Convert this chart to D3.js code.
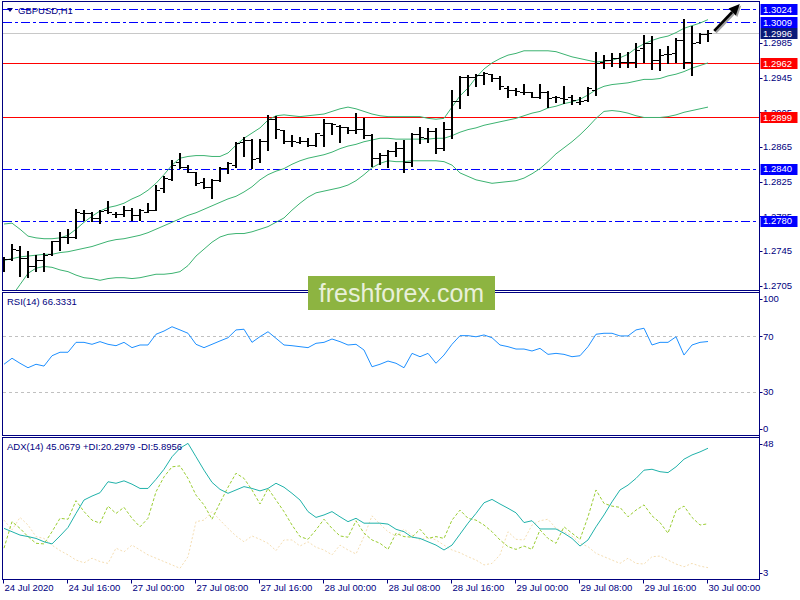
<!DOCTYPE html>
<html><head><meta charset="utf-8">
<script src="https://cdn.jsdelivr.net/npm/d3@7"></script>
<style>body{margin:0;background:#fff}svg{display:block}text{font-family:"Liberation Sans",Arial,sans-serif}</style>
</head><body><svg id="c" width="800" height="600"></svg>
<script>
// ---------- data ----------
const symbolLabel = "GBPUSD,H1";
const rsiLabel = "RSI(14) 66.3331";
const adxLabel = "ADX(14) 45.0679 +DI:20.2979 -DI:5.8956";
const timeLabels = ["24 Jul 2020","24 Jul 16:00","27 Jul 00:00","27 Jul 08:00","27 Jul 16:00","28 Jul 00:00","28 Jul 08:00","28 Jul 16:00","29 Jul 00:00","29 Jul 08:00","29 Jul 16:00","30 Jul 00:00"];
const timeLabelBars = [0,8,16,24,32,40,48,56,64,72,80,88];
const priceTicks = [1.2985,1.2945,1.2905,1.2865,1.2825,1.2785,1.2745,1.2705];
const blueLevels = [1.3024,1.3009,1.2840,1.2780];
const redLevels = [1.2962,1.2899];
const bidPrice = 1.2996;
const rsiLevels = [70,30];
const rsiAxis = [100,70,30,0];
const adxAxis = [48,3];
const arrowPts = [[88.9,1.2999],[92.1,1.3030]];

const openP = [1.2734,1.2736,1.2746,1.2737,1.2727,1.2734,1.2741,1.2756,1.2761,1.2761,
 1.2789,1.2789,1.2783,1.2792,1.2788,1.2788,1.2792,1.2786,1.2790,1.2792,
 1.2818,1.2828,1.2848,1.2842,1.2836,1.2825,1.2819,1.2827,1.2841,1.2844,
 1.2871,1.2873,1.2852,1.2872,1.2897,1.2885,1.2872,1.2871,1.2872,1.2867,
 1.2879,1.2893,1.2889,1.2888,1.2884,1.2886,1.2879,1.2852,1.2856,1.2860,
 1.2864,1.2848,1.2880,1.2875,1.2883,1.2864,1.2886,1.2918,1.2946,1.2946,
 1.2948,1.2949,1.2945,1.2933,1.2931,1.2929,1.2928,1.2923,1.2929,1.2923,
 1.2922,1.2923,1.2917,1.2919,1.2931,1.2963,1.2965,1.2968,1.2963,1.2963,
 1.2979,1.2985,1.2965,1.2972,1.2974,1.2988,1.2963,1.2986,1.2995];
const highP = [1.2738,1.2753,1.2751,1.2745,1.2740,1.2743,1.2756,1.2767,1.2770,1.2793,
 1.2792,1.2790,1.2792,1.2802,1.2790,1.2797,1.2795,1.2793,1.2800,1.2821,
 1.2831,1.2850,1.2858,1.2844,1.2836,1.2829,1.2828,1.2842,1.2848,1.2871,
 1.2876,1.2874,1.2874,1.2902,1.2901,1.2885,1.2879,1.2877,1.2875,1.2881,
 1.2897,1.2893,1.2890,1.2888,1.2904,1.2898,1.2880,1.2858,1.2861,1.2871,
 1.2873,1.2881,1.2888,1.2887,1.2887,1.2894,1.2931,1.2947,1.2948,1.2949,
 1.2952,1.2949,1.2947,1.2935,1.2933,1.2938,1.2929,1.2938,1.2930,1.2924,
 1.2935,1.2925,1.2923,1.2934,1.2975,1.2971,1.2973,1.2974,1.2975,1.2985,
 1.2994,1.2993,1.2978,1.2982,1.2991,1.3013,1.3005,1.2997,1.3000];
const lowP = [1.2722,1.2734,1.2716,1.2715,1.2722,1.2722,1.2740,1.2746,1.2754,1.2760,
 1.2781,1.2779,1.2777,1.2789,1.2784,1.2785,1.2781,1.2781,1.2790,1.2792,
 1.2813,1.2827,1.2841,1.2836,1.2821,1.2818,1.2806,1.2826,1.2835,1.2842,
 1.2854,1.2841,1.2848,1.2861,1.2875,1.2870,1.2866,1.2870,1.2866,1.2866,
 1.2866,1.2880,1.2871,1.2881,1.2881,1.2875,1.2843,1.2845,1.2842,1.2854,
 1.2836,1.2843,1.2870,1.2871,1.2858,1.2861,1.2875,1.2910,1.2925,1.2935,
 1.2938,1.2941,1.2932,1.2923,1.2925,1.2926,1.2923,1.2922,1.2911,1.2917,
 1.2916,1.2915,1.2915,1.2918,1.2925,1.2956,1.2958,1.2957,1.2957,1.2957,
 1.2963,1.2955,1.2954,1.2962,1.2963,1.2956,1.2948,1.2985,1.2987];
const closeP = [1.2736,1.2747,1.2737,1.2728,1.2734,1.2740,1.2756,1.2761,1.2761,1.2790,
 1.2789,1.2783,1.2791,1.2790,1.2788,1.2792,1.2786,1.2792,1.2792,1.2815,
 1.2829,1.2844,1.2842,1.2836,1.2823,1.2819,1.2827,1.2841,1.2846,1.2870,
 1.2873,1.2851,1.2872,1.2897,1.2886,1.2872,1.2872,1.2872,1.2867,1.2881,
 1.2893,1.2891,1.2888,1.2884,1.2886,1.2879,1.2852,1.2856,1.2860,1.2864,
 1.2848,1.2880,1.2877,1.2883,1.2864,1.2886,1.2918,1.2946,1.2946,1.2948,
 1.2950,1.2945,1.2935,1.2931,1.2930,1.2928,1.2923,1.2929,1.2922,1.2923,
 1.2920,1.2919,1.2918,1.2933,1.2962,1.2965,1.2968,1.2963,1.2963,1.2977,
 1.2985,1.2965,1.2971,1.2972,1.2988,1.2963,1.2985,1.2995,1.2996];
const bbUpper = [1.2776,1.2777,1.2770,1.2762,1.2760,1.2759,1.2759,1.2760,1.2763,1.2770,
 1.2778,1.2785,1.2791,1.2795,1.2797,1.2800,1.2805,1.2809,1.2815,1.2823,
 1.2833,1.2844,1.2852,1.2854,1.2855,1.2855,1.2854,1.2854,1.2858,1.2867,
 1.2875,1.2881,1.2887,1.2896,1.2901,1.2902,1.2901,1.2900,1.2901,1.2902,
 1.2903,1.2906,1.2909,1.2911,1.2909,1.2906,1.2903,1.2901,1.2900,1.2900,
 1.2900,1.2900,1.2900,1.2898,1.2897,1.2898,1.2911,1.2924,1.2933,1.2945,
 1.2955,1.2962,1.2967,1.2971,1.2973,1.2976,1.2976,1.2976,1.2976,1.2975,
 1.2972,1.2969,1.2967,1.2965,1.2963,1.2964,1.2965,1.2968,1.2972,1.2979,
 1.2984,1.2988,1.2991,1.2993,1.2997,1.3002,1.3005,1.3008,1.3012];
const bbMiddle = [1.2734,1.2736,1.2738,1.2739,1.2740,1.2741,1.2741,1.2743,1.2744,1.2746,
 1.2748,1.2750,1.2753,1.2756,1.2758,1.2759,1.2761,1.2763,1.2766,1.2770,
 1.2774,1.2778,1.2782,1.2786,1.2789,1.2793,1.2797,1.2801,1.2805,1.2808,
 1.2813,1.2819,1.2827,1.2833,1.2837,1.2840,1.2845,1.2849,1.2852,1.2854,
 1.2856,1.2859,1.2863,1.2866,1.2868,1.2871,1.2873,1.2875,1.2875,1.2874,
 1.2874,1.2874,1.2874,1.2874,1.2875,1.2875,1.2878,1.2882,1.2885,1.2887,
 1.2890,1.2892,1.2894,1.2896,1.2898,1.2901,1.2904,1.2906,1.2910,1.2912,
 1.2915,1.2917,1.2920,1.2925,1.2931,1.2935,1.2937,1.2938,1.2939,1.2941,
 1.2943,1.2943,1.2944,1.2947,1.2949,1.2952,1.2956,1.2959,1.2962];
const bbLower = [1.2686,1.2693,1.2706,1.2719,1.2725,1.2727,1.2726,1.2723,1.2721,1.2717,
 1.2714,1.2713,1.2711,1.2713,1.2714,1.2714,1.2713,1.2714,1.2716,1.2718,
 1.2718,1.2719,1.2721,1.2728,1.2739,1.2747,1.2755,1.2761,1.2764,1.2765,
 1.2765,1.2767,1.2770,1.2773,1.2778,1.2783,1.2792,1.2800,1.2807,1.2812,
 1.2814,1.2816,1.2818,1.2821,1.2826,1.2833,1.2841,1.2846,1.2849,1.2848,
 1.2848,1.2849,1.2849,1.2849,1.2849,1.2848,1.2844,1.2835,1.2831,1.2827,
 1.2825,1.2823,1.2824,1.2825,1.2826,1.2829,1.2834,1.2840,1.2848,1.2857,
 1.2864,1.2871,1.2879,1.2888,1.2898,1.2906,1.2907,1.2906,1.2904,1.2901,
 1.2899,1.2899,1.2899,1.2900,1.2902,1.2905,1.2907,1.2909,1.2911];
const rsi = [50.0,54.3,50.7,47.5,50.0,48.7,56.1,58.6,58.6,65.7,
 65.7,64.3,66.2,64.3,63.3,65.7,61.9,63.8,63.8,71.5,
 73.8,76.9,74.6,72.2,64.3,61.9,64.3,66.7,69.0,74.6,
 75.1,65.7,69.8,73.3,68.6,63.8,63.3,62.6,61.9,65.0,
 65.7,68.1,66.2,63.8,64.3,60.2,48.2,50.0,52.3,50.7,
 47.5,57.8,55.4,57.8,50.7,56.6,64.3,70.5,70.5,69.7,
 71.0,69.0,63.8,62.6,60.9,60.9,59.5,61.4,57.1,57.8,
 57.1,55.4,56.1,62.6,71.5,72.2,72.2,70.3,70.3,74.6,
 75.8,63.8,65.7,65.7,69.7,56.6,63.8,65.7,66.3];
const adx = [18.8,17.7,16.6,16.1,15.5,14.4,13.7,16.3,19.1,23.7,
 28.1,29.4,30.5,34.1,33.6,34.4,33.3,31.9,31.9,34.9,
 38.2,42.3,45.1,46.7,42.3,37.9,33.9,31.6,30.3,31.4,
 32.5,31.9,31.1,31.9,33.6,32.3,30.3,28.1,24.3,22.4,
 23.2,24.3,22.6,21.0,22.1,20.5,20.5,20.5,20.2,18.5,
 17.7,15.9,15.5,14.4,13.3,11.7,13.3,16.9,20.5,23.7,
 27.2,28.3,26.8,25.4,23.9,20.7,21.3,18.6,18.6,18.6,
 17.2,15.5,13.0,15.0,19.3,23.2,27.5,31.4,33.0,35.2,
 37.9,38.2,37.4,37.1,39.0,41.5,42.9,43.9,45.1];
const plusDI = [12.3,21.0,18.8,16.1,13.9,13.7,17.7,22.1,21.8,27.9,
 24.3,21.5,20.5,26.1,23.7,25.7,22.1,19.3,22.1,30.8,
 35.7,39.0,39.3,35.2,29.7,26.5,21.8,27.2,32.3,36.9,
 35.2,31.4,26.8,31.9,28.1,24.3,19.9,16.1,15.2,18.3,
 21.8,18.8,16.3,15.9,21.3,17.2,15.0,13.9,11.9,17.2,
 16.1,15.9,18.5,15.5,16.1,15.5,21.5,24.8,22.1,21.5,
 19.9,17.7,15.0,12.8,11.9,13.0,11.9,18.3,15.5,13.9,
 19.3,17.2,15.2,22.6,31.4,27.0,26.1,25.7,22.6,24.8,
 26.5,22.9,20.7,17.2,24.6,26.1,22.4,19.9,20.3];
const minusDI = [21.5,18.3,22.4,19.9,16.1,15.5,13.3,11.5,10.1,8.4,
 7.5,9.0,7.9,7.3,12.3,11.1,13.3,11.7,10.1,9.0,
 7.9,6.8,5.7,9.5,21.0,21.5,24.3,21.5,18.8,16.3,
 14.4,16.3,15.2,13.9,11.5,15.0,15.0,13.0,14.4,12.6,
 11.7,10.1,13.3,11.7,10.4,16.1,22.9,20.2,17.7,16.3,
 18.5,16.6,15.0,15.9,15.0,13.3,11.7,10.8,9.5,8.4,
 6.8,7.3,10.1,17.7,15.2,15.0,19.9,21.3,21.8,18.8,
 17.7,16.3,13.9,12.8,10.6,9.5,8.4,7.3,9.0,7.3,
 7.1,9.5,9.7,8.4,7.1,6.2,7.3,6.4,5.9];

// ---------- layout ----------
const L = 2.5, R = 759.5;
const P = {main:[1.5,290.5], rsi:[292.5,435.5], adx:[437.5,579.5]};
const NAVY = "#000080";
const x = d3.scaleLinear().domain([0,88]).range([3,707]);
const y = d3.scaleLinear().domain([1.2705,1.2985]).range([285.5,43]);
const yR = d3.scaleLinear().domain([0,100]).range([434,294.5]);
const yA = d3.scaleLinear().domain([3,48]).range([576.5,439.4]);

const svg = d3.select("#c");
svg.append("rect").attr("width",800).attr("height",600).attr("fill","#fff");
const defs = svg.append("defs");
Object.entries(P).forEach(([k,[t,b]])=>{
  defs.append("clipPath").attr("id","clip-"+k).append("rect")
    .attr("x",L+0.5).attr("y",t+0.5).attr("width",R-L-1).attr("height",b-t-1);
});

function hline(g, yy, color, dash){
  const p = g.append("path").attr("d",`M${L},${yy}H${R}`)
    .attr("style",`stroke:${color};stroke-width:1px;fill:none;`+(dash?`stroke-dasharray:${dash};`:""))
    .attr("shape-rendering","crispEdges");
  return p;
}

// ---------- main panel ----------
const gm = svg.append("g").attr("clip-path","url(#clip-main)");
hline(gm, Math.round(y(bidPrice))+0.5, "#C8C8C8");
redLevels.forEach(p=>hline(gm, Math.round(y(p))+0.5, "#FF0000"));
blueLevels.forEach(p=>hline(gm, Math.round(y(p))+0.5, "#0000FF", "9,3,3,3"));
const band = d3.line().x((d,i)=>x(i)+1).y(d=>y(d));
[bbUpper,bbMiddle,bbLower].forEach(s=>{
  gm.append("path").attr("d",band(s)).attr("fill","none").attr("stroke","#3CB371").attr("stroke-width",1);
});
const bars = gm.append("g").attr("fill","#000").attr("shape-rendering","crispEdges");
openP.forEach((o,i)=>{
  const xi = Math.round(x(i));
  const yh = Math.round(y(highP[i])), yl = Math.round(y(lowP[i]));
  bars.append("rect").attr("x",xi).attr("y",yh).attr("width",2).attr("height",Math.max(1,yl-yh+1));
  bars.append("rect").attr("x",xi-3).attr("y",Math.round(y(o))).attr("width",3).attr("height",1);
  bars.append("rect").attr("x",xi+2).attr("y",Math.round(y(closeP[i]))).attr("width",3).attr("height",1);
});
// arrow annotation
const a0 = [x(arrowPts[0][0]), y(arrowPts[0][1])], a1 = [x(arrowPts[1][0]), y(arrowPts[1][1])];
const dx = a1[0]-a0[0], dy = a1[1]-a0[1], len = Math.hypot(dx,dy), ux = dx/len, uy = dy/len;
const hb = [a1[0]-ux*11, a1[1]-uy*11];
function drawArrow(off, col){
  svg.append("path").attr("d",`M${a0[0]+off},${a0[1]+off}L${hb[0]+off},${hb[1]+off}`)
    .attr("fill","none").attr("stroke",col).attr("stroke-width",2.6);
  svg.append("path").attr("d",`M${a1[0]+off},${a1[1]+off}L${hb[0]-uy*5+off},${hb[1]+ux*5+off}L${hb[0]+uy*5+off},${hb[1]-ux*5+off}Z`).attr("fill",col);
}
drawArrow(1.5,"#a0a0a0");
drawArrow(0,"#000");

// ---------- RSI panel ----------
const gr = svg.append("g").attr("clip-path","url(#clip-rsi)");
rsiLevels.forEach(v=>hline(gr, Math.round(yR(v))+0.5, "#C0C0C0", "3,3"));
gr.append("path").attr("d",d3.line().x((d,i)=>x(i)+1).y(d=>yR(d))(rsi)).attr("fill","none").attr("stroke","#1E90FF").attr("stroke-width",1);

// ---------- ADX panel ----------
const ga = svg.append("g").attr("clip-path","url(#clip-adx)");
const la = d3.line().x((d,i)=>x(i)+1).y(d=>yA(d));
ga.append("path").attr("d",la(minusDI)).attr("fill","none").attr("stroke","#F5DEB3").attr("stroke-width",1).attr("stroke-dasharray","2,2");
ga.append("path").attr("d",la(plusDI)).attr("fill","none").attr("stroke","#9ACD32").attr("stroke-width",1).attr("stroke-dasharray","3,2");
ga.append("path").attr("d",la(adx)).attr("fill","none").attr("stroke","#20B2AA").attr("stroke-width",1);

// ---------- frames ----------
const frames = svg.append("g").attr("fill","none").attr("stroke",NAVY).attr("stroke-width",1).attr("shape-rendering","crispEdges");
Object.values(P).forEach(([t,b])=>{
  frames.append("rect").attr("x",L).attr("y",t).attr("width",R-L).attr("height",b-t);
});
frames.append("path").attr("d",`M${R},${P.main[0]}V${P.adx[1]}`);

// ---------- text ----------
const fs = "9.5px";
svg.append("path").attr("d","M7,8L13,8L10,12Z").attr("fill",NAVY);
svg.append("text").attr("x",18).attr("y",10.5).attr("dy","0.35em").attr("font-size",fs).attr("fill",NAVY).text(symbolLabel);
svg.append("text").attr("x",7).attr("y",301.7).attr("dy","0.35em").attr("font-size",fs).attr("fill",NAVY).text(rsiLabel);
svg.append("text").attr("x",7).attr("y",446.7).attr("dy","0.35em").attr("font-size",fs).attr("fill",NAVY).text(adxLabel);

// price axis
const ax = svg.append("g").attr("font-size",fs).attr("fill",NAVY);
function tick(yy){
  ax.append("path").attr("d",`M${R},${Math.round(yy)+0.5}H${R+3}`).attr("stroke",NAVY).attr("fill","none");
}
priceTicks.forEach(p=>{
  const yy = y(p);
  tick(yy);
  ax.append("text").attr("x",763).attr("y",yy).attr("dy","0.35em").text(p.toFixed(4));
});
function priceBox(p, col){
  const yy = y(p);
  svg.append("rect").attr("x",760.5).attr("y",Math.round(yy)-5).attr("width",37).attr("height",11).attr("fill",col);
  svg.append("text").attr("x",763).attr("y",yy+0.5).attr("dy","0.35em").attr("font-size",fs).attr("fill","#fff").text(p.toFixed(4));
}
blueLevels.forEach(p=>priceBox(p,"#0000FF"));
redLevels.forEach(p=>priceBox(p,"#FF0000"));
priceBox(bidPrice,"#0B1A78");

// RSI / ADX axes
rsiAxis.forEach(v=>{
  let yy = yR(v);
  yy = Math.max(P.rsi[0]+6.5, Math.min(P.rsi[1]-6.5, yy));
  tick(yy);
  ax.append("text").attr("x",763).attr("y",yy).attr("dy","0.35em").text(v);
});
adxAxis.forEach(v=>{
  let yy = yA(v);
  yy = Math.max(P.adx[0]+6.5, Math.min(P.adx[1]-6.5, yy));
  tick(yy);
  ax.append("text").attr("x",763).attr("y",yy).attr("dy","0.35em").text(v);
});

// time axis
timeLabelBars.forEach((b,k)=>{
  const xx = Math.round(x(b))+0.5;
  ax.append("path").attr("d",`M${xx},${P.adx[1]}V${P.adx[1]+4}`).attr("stroke",NAVY).attr("fill","none");
  ax.append("text").attr("x",xx+1).attr("y",588).attr("dy","0.35em").text(timeLabels[k]);
});

// watermark
svg.append("rect").attr("x",308).attr("y",276).attr("width",187).attr("height",34).attr("fill","#8DB441");
svg.append("text").attr("x",401.5).attr("y",302).attr("text-anchor","middle")
  .attr("font-family","'Open Sans',sans-serif").attr("font-size","25px").attr("fill","#E9F0DA").text("freshforex.com");
</script></body></html>
